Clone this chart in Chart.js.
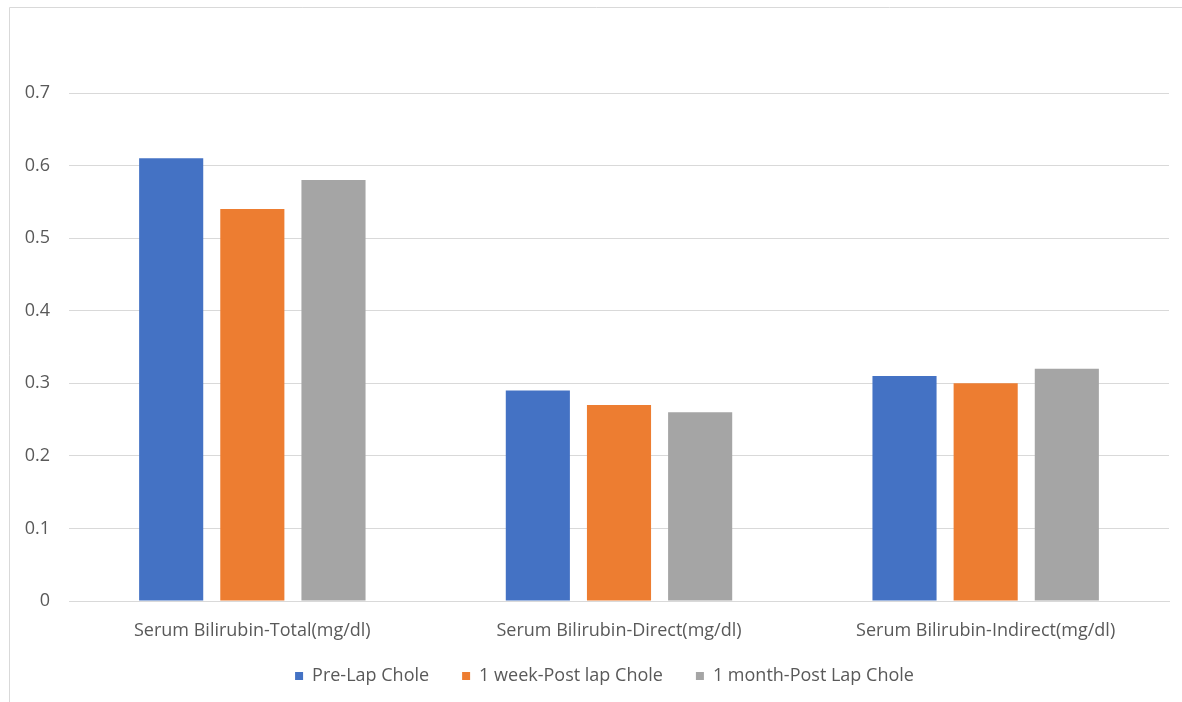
<!DOCTYPE html>
<html>
<head>
<meta charset="utf-8">
<script src="https://cdn.jsdelivr.net/npm/chart.js@4.4.1/dist/chart.umd.min.js"></script>
<style>
  html, body { margin: 0; padding: 0; background: #ffffff; overflow: hidden; }
  #wrap { position: absolute; left: 0; top: 0; width: 1182px; height: 702px; }
</style>
</head>
<body>
<div id="wrap"><canvas id="chart" width="1182" height="702"></canvas></div>
<script>
// Bilirubin measurements (mg/dl) before and after laparoscopic cholecystectomy
const categories = [
  'Serum Bilirubin-Total(mg/dl)',
  'Serum Bilirubin-Direct(mg/dl)',
  'Serum Bilirubin-Indirect(mg/dl)'
];
const seriesNames = ['Pre-Lap Chole', '1 week-Post lap Chole', '1 month-Post Lap Chole'];
const preLap = [0.61, 0.29, 0.31];
const oneWeekPost = [0.54, 0.27, 0.30];
const oneMonthPost = [0.58, 0.26, 0.32];
const yTicks = [0, 0.1, 0.2, 0.3, 0.4, 0.5, 0.6, 0.7];

const colors = ['#4472C4', '#ED7D31', '#A5A5A5'];
const textColor = '#595959';
const fontFamily = "'Open Sans', 'Liberation Sans', sans-serif";
const fontSize = 18;

// Thin outer frame around the chart object
const framePlugin = {
  id: 'frame',
  beforeDraw(chart) {
    const ctx = chart.ctx;
    ctx.save();
    ctx.fillStyle = '#ffffff';
    ctx.fillRect(0, 0, chart.width, chart.height);
    ctx.strokeStyle = '#d9d9d9';
    ctx.lineWidth = 1;
    ctx.beginPath();
    ctx.moveTo(9.5, chart.height + 5);
    ctx.lineTo(9.5, 7.5);
    ctx.lineTo(chart.width + 5, 7.5);
    ctx.stroke();
    ctx.restore();
  }
};

// Keep the legend band compact and nudge its row after layout
const legendBand = { height: 59, dx: 15, dy: -9 };
const legendBandPlugin = {
  id: 'legendBand',
  beforeLayout(chart) {
    const l = chart.legend;
    if (l && !l._bandFit) {
      const fit = l.fit;
      l.fit = function () { fit.call(this); this.height = legendBand.height; };
      l._bandFit = true;
    }
  },
  afterLayout(chart) {
    const l = chart.legend;
    if (!l) return;
    l.left += legendBand.dx; l.right += legendBand.dx;
    l.top += legendBand.dy; l.bottom += legendBand.dy;
  }
};

new Chart(document.getElementById('chart'), {
  type: 'bar',
  data: {
    labels: categories,
    datasets: [
      { label: seriesNames[0], data: preLap, backgroundColor: colors[0] },
      { label: seriesNames[1], data: oneWeekPost, backgroundColor: colors[1] },
      { label: seriesNames[2], data: oneMonthPost, backgroundColor: colors[2] }
    ]
  },
  plugins: [framePlugin, legendBandPlugin],
  options: {
    responsive: false,
    animation: false,
    layout: { padding: { left: 10, right: 13, top: 93, bottom: 0 } },
    datasets: {
      bar: { categoryPercentage: 0.664, barPercentage: 0.79 }
    },
    plugins: {
      tooltip: { enabled: false },
      legend: {
        position: 'bottom',
        labels: {
          usePointStyle: true,
          pointStyle: 'rect',
          boxWidth: 8,
          boxHeight: 8,
          padding: 33,
          color: textColor,
          font: { family: fontFamily, size: fontSize }
        }
      }
    },
    scales: {
      x: {
        afterFit(scale) { scale.height = 42; },
        grid: { display: false, drawTicks: false },
        border: { color: '#d9d9d9' },
        ticks: {
          color: textColor,
          padding: 19,
          font: { family: fontFamily, size: fontSize }
        }
      },
      y: {
        min: 0,
        max: 0.7,
        afterBuildTicks(scale) {
          scale.ticks = yTicks.map(v => ({ value: v }));
        },
        afterFit(scale) { scale.width = 59; },
        grid: { color: '#d9d9d9', drawTicks: false },
        border: { display: false },
        ticks: {
          color: textColor,
          padding: 19,
          font: { family: fontFamily, size: fontSize },
          callback: v => String(v)
        }
      }
    }
  }
});
</script>
</body>
</html>
